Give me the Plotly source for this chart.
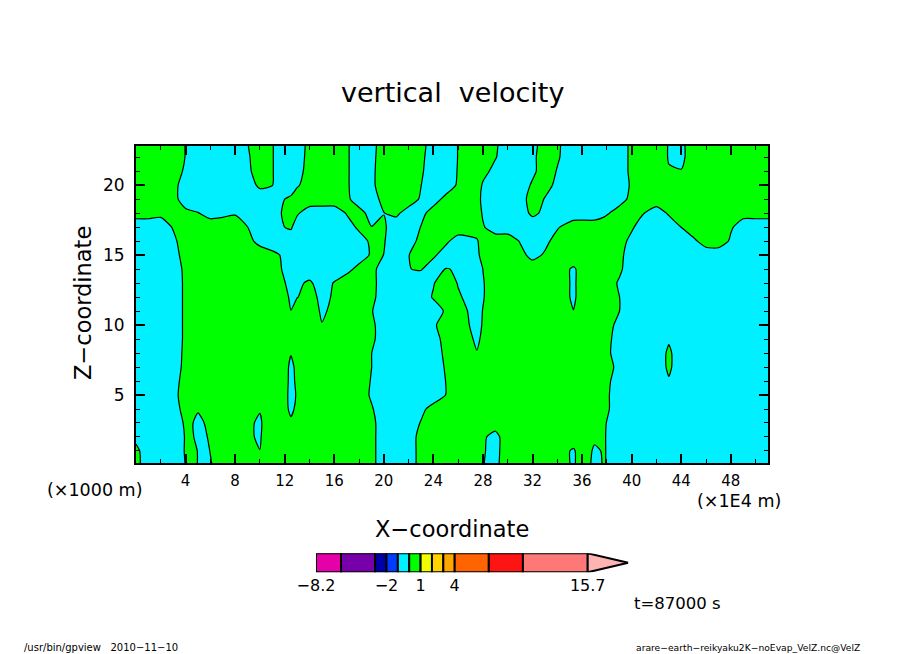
import plotly.graph_objects as go

# grid of the contour field (x in 1E4 m, z in 1000 m)
x_coord = [0, 1, 2, 3, 4, 5, 6, 7, 8, 9, 10, 11, 12.5, 13, 14, 15, 16, 17, 18, 19,
           20, 21, 22, 23, 24, 25, 26, 27.5, 28, 29, 30, 31, 32, 33, 34, 35.3, 36, 37, 37.75, 39,
           40, 41, 42, 43, 44, 45, 46, 47, 48, 49, 50, 51]
z_coord = [0.14, 1, 2, 3, 4, 5, 6, 7, 8, 9, 10, 11, 12, 13, 14, 15, 16, 17, 18, 19, 20, 21, 22, 22.8]

# estimated vertical velocity, one row per height (only the sign pattern can be read)
r00 = [3.5,-6.5,-9,-40,2,-.1,-1,9,9,9, 9,9,9,9,9,9,9,9,9,3.5, -6.5,-9,-6,4,9,9,9,9,.4,-3.5, 8,9,9,9,7,-2,7,-3,.75,-5.5, -9,-9,-9,-9,-9,-9,-9,-9,-9,-9, -9,-9]
r01 = [3,-7,-9,-40,5,-.3,.03,9,9,9, .1,9,9,9,9,9,9,9,9,3.5, -6.5,-9,-6,4,9,9,9,9,.9,-3.5, 6.5,9,9,9,7,-2,8,-2,1,-7, -9,-9,-9,-9,-9,-9,-9,-9,-9,-9, -9,-9]
r02 = [-3,-9,-9,-20,2,-1,.33,9,9,1.1, -.9,8,9,9,9,9,9,9,9,3.5, -6.5,-9,-6,4,9,9,9,9,1.5,-3.5, 6.5,9,9,9,9,9,9,2.5,1.2,-9, -9,-9,-9,-9,-9,-9,-9,-9,-9,-9, -9,-9]
r03 = [-9,-9,-9,-8,2,-1.3,1.3,9,9,1.1, -.9,5,1.2,9,9,9,9,9,9,3.5, -6.5,-9,-9,1,9,9,9,9,9,5, 9,9,9,9,9,9,9,9,1.6,-8.4, -9,-9,-9,-9,-9,-9,-9,-9,-9,-9, -9,-9]
r04 = [-9,-9,-9,-5.5,4.5,.5,9,9,9,9, .4,9,-1.5,1.5,9,9,9,9,9,1.5, -8.5,-9,-9,-4,6,9,9,9,9,9, 9,9,9,9,9,9,9,9,3.6,-6.4, -9,-9,-9,-9,-9,-9,-9,-9,-9,-9, -9,-9]
r05 = [-9,-9,-9,-4,6,9,9,9,9,9, 9,9,-1.8,.5,9,9,9,9,8,-2, -9,-9,-9,-9,-9,.2,9,9,9,9, 9,9,9,9,9,9,9,9,3.6,-6.4, -9,-9,-9,-9,-9,-9,-9,-9,-9,-9, -9,-9]
r06 = [-9,-9,-9,-5,5,9,9,9,9,9, 9,9,-1.5,1,9,9,9,9,9,-1, -9,-9,-9,-9,-9,.2,9,9,9,9, 9,9,9,9,9,9,9,9,4.4,-5.6, -9,-9,-9,-1.5,-9,-9,-9,-9,-9,-9, -9,-9]
r07 = [-9,-9,-9,-6.5,3.5,9,9,9,9,9, 9,9,-1.3,1.3,9,9,9,9,9,.2, -9,-9,-9,-9,-8.5,1.5,9,9,9,9, 9,9,9,9,9,9,9,9,6.4,-3.6, -9,-9,-10,3,-10,-9,-9,-9,-9,-9, -9,-9]
r08 = [-9,-9,-9,-7,3,9,9,9,9,9, 9,9,.3,9,9,9,9,9,9,.2, -9,-9,-9,-9,-7,3,9,.5,9,9, 9,9,9,9,9,9,9,9,4.4,-5.6, -9,-9,-10,3,-10,-9,-9,-9,-9,-9, -9,-9]
r09 = [-9,-9,-9,-7.5,2.5,9,9,9,9,9, 9,9,9,9,9,9,9,9,9,3, -7,-9,-9,-9,-5.5,4.5,8,-2,2,9, 9,9,9,9,9,9,9,9,5,-5, -9,-9,-9,-2,-9,-9,-9,-9,-9,-9, -9,-9]
r10 = [-9,-9,-9,-7.5,2.5,9,9,9,9,9, 9,9,9,9,9,.5,9,9,9,3, -7,-9,-9,-9,-2.5,7.5,6,-4,1,9, 9,9,9,9,9,9,9,9,6.4,-3.6, -9,-9,-9,-9,-9,-9,-9,-9,-9,-9, -9,-9]
r11 = [-9,-9,-9,-7.5,2.5,9,9,9,9,9, 9,9,.1,9,8,-2,3,9,9,1, -9,-9,-9,-9,-8,2,5,-5,.5,9, 9,9,9,9,9,.2,9,9,9,.2, -9,-9,-9,-9,-9,-9,-9,-9,-9,-9, -9,-9]
r12 = [-9,-9,-9,-7.5,2.5,9,9,9,9,9, 9,9,-1.3,-.6,6,-4,1.7,9,9,3.5, -6.5,-9,-9,-8.5,1.5,9,2,-8,-1,9, 9,9,9,9,7,-2,5,9,9,.2, -9,-9,-9,-9,-9,-9,-9,-9,-9,-9, -9,-9]
r13 = [-9,-9,-9,-7.5,2.5,9,9,9,9,9, 9,7,-3,-3,2.5,-7.5,1,9,9,4, -6,-9,-9,-9,-1,9,-1,-9,-1,9, 9,9,9,9,7,-2,5,9,8.4,-1.6, -9,-9,-9,-9,-9,-9,-9,-9,-9,-9, -9,-9]
r14 = [-9,-9,-9,-7,3,9,9,9,9,9, 9,5,-5,-9,-9,-9,-9,-5,5,4, -6,-9,-.3,1,-8,.5,-1,-9,.2,9, 9,9,9,9,7,-2,5,9,9,2.5, -7.5,-9,-9,-9,-9,-9,-9,-9,-9,-9, -9,-9]
r15 = [-9,-9,-9,-5,5,9,9,9,9,9, 9,4,-6,-9,-9,-9,-9,-9,-8,2, -.1,-9,-.5,9,2.5,-7.5,-9,-4,6,9, 9,5,-5,2,9,9,9,9,9,3.5, -6.5,-9,-9,-9,-9,-9,-9,-9,-9,-9, -9,-9]
r16 = [-9,-9,-9,-3,7,9,9,9,9,5, -5,-9,-9,-9,-9,-9,-9,-9,-7,3, 1,-9,-6,4,9,3,-7,-2,8,9, 9,-1,-9,-4,6,9,9,9,9,6, -4,-9,-9,-9,-9,-3,7,8,-2,-9, -9,-9]
r17 = [-6,-6,-7,1,9,9,6,7,9,.2, -9,-4,2,-8,-9,-9,-9,-7,3,.3, 2,-8,-9,.5,9,9,9,9,1.5,-8.5, -9,-9,-9,-9,-1.5,8.5,9,9,9,9, 2,-8,-9,-9,.2,9,9,9,1.5,-6, -6,-6]
r18 = [4,4,3,3,3,.5,-4,-3,-1.5,-9, -9,-4.7,5,2,-8,-9,-9,1,5,-5, -.3,3,-7,-4,6,9,9,8,-2,-9, -9,-7,3,-3,-9,-9,-9,-9,-3.6,6.4, 9,.2,-8,2,9,9,9,9,4,4, 4,4]
r19 = [9,9,9,4,-6,-9,-9,-9,-9,-9, -9,-6,3,9,9,9,9,3,-7,-6, 4,9,8,-2,-6,4,9,6,-4,-9, -9,-9,9,-1,-9,-9,-9,-9,-9,-6, 4,9,9,9,9,9,9,9,9,9, 9,9]
r20 = [9,9,9,4,-6,-9,-9,-9,-9,-7, 3,.2,-9,-2,8,9,9,2,-8,-3, 7,9,9,.2,-9,-8,2,8,-2,-9, -9,-8,2,6,-4,-9,-9,-9,-9,-8, 2,9,9,9,9,9,9,9,9,9, 9,9]
r21 = [9,9,9,7.5,-2.5,-9,-9,-9,-9,-3, 7,.5,-9,-5,5,9,9,2,-8,-3, 7,9,9,2,-8,-9,1,9,5,-5, -9,-9,-3,7,-.8,-9,-9,-9,-9,-7, 3,9,5,1,.5,5,9,9,9,9, 9,9]
r22 = [9,9,9,9,-.5,-9,-9,-9,-9,-2, 8,.5,-9,-6,4,9,9,2,-8,-3.5, 6.5,9,9,3,-7,-9,.5,9,9,1, -9,-9,-3,7,1.5,-8,-9,-9,-9,-7, 3,9,9,-1,-3,7,9,9,9,9, 9,9]
r23 = [9,9,9,9,-.5,-9,-9,-9,-9,-.6, 9,.5,-9,-6.5,3.5,9,9,2,-8,-4, 6,9,9,4,-6,-9,.5,9,9,2, -8,-9,-4,6,2,-8,-9,-9,-9,-7, 3,9,9,-1,-3,7,9,9,9,9, 9,9]
z_values = [r00, r01, r02, r03, r04, r05, r06, r07, r08, r09, r10, r11,
            r12, r13, r14, r15, r16, r17, r18, r19, r20, r21, r22, r23]

# colour bar levels and colours
cbar_levels = [-8.2, -6, -3, -2, -1, 0, 1, 2, 3, 4, 7, 10, 15.7]
cbar_colors = ["#e600aa", "#7800aa", "#0000aa", "#003cff", "#00f0ff", "#00ff00",
               "#f0ff00", "#ffd200", "#ffa500", "#ff6400", "#ff1414", "#ff7878"]
cbar_tip = 19.27
cbar_tip_color = "#ffb4b4"
cbar_ticks = [-8.2, -2, 1, 4, 15.7]
cbar_ticktext = ["\u22128.2", "\u22122", "1", "4", "15.7"]

# the page body keeps its 8px margin, so the figure sits at (8, 8)
W, H = 896, 646
FONT = "DejaVu Sans"


def px_x(p):
    return (p - 8) / W


def px_y(p):
    return 1 - (p - 8) / H


fig = go.Figure()

fig.add_trace(go.Contour(
    x=x_coord, y=z_coord, z=z_values,
    contours=dict(start=0, end=0, size=1, coloring="fill"),
    colorscale=[[0, "#00f0ff"], [0.5, "#00f0ff"], [0.5, "#00ff00"], [1, "#00ff00"]],
    zmin=-1, zmax=1,
    line=dict(color="black", width=1.2, smoothing=0.6),
    showscale=False, hoverinfo="skip",
))

# colour bar drawn on its own axes
fig.add_trace(go.Bar(
    y=[0.5] * len(cbar_colors),
    x=[b - a for a, b in zip(cbar_levels[:-1], cbar_levels[1:])],
    base=cbar_levels[:-1],
    width=1, orientation="h",
    marker=dict(color=cbar_colors, line=dict(color="black", width=2)),
    xaxis="x2", yaxis="y2", showlegend=False, hoverinfo="skip",
))
fig.add_trace(go.Scatter(
    x=[cbar_levels[-1], cbar_tip, cbar_levels[-1], cbar_levels[-1]],
    y=[0, 0.5, 1, 0],
    mode="lines", fill="toself", fillcolor=cbar_tip_color,
    line=dict(color="black", width=2),
    xaxis="x2", yaxis="y2", showlegend=False, hoverinfo="skip",
))

fig.update_layout(
    width=W, height=H, autosize=False,
    margin=dict(l=0, r=0, t=0, b=0, autoexpand=False),
    paper_bgcolor="white", plot_bgcolor="white",
    font=dict(family=FONT, color="black"),
    barmode="overlay",
    xaxis=dict(
        domain=[px_x(136), px_x(768)], range=[0, 51], anchor="y",
        tickmode="array", tickvals=list(range(4, 49, 4)),
        ticks="inside", ticklen=9, tickwidth=2, tickcolor="black",
        minor=dict(tickmode="array", tickvals=list(range(2, 51, 4)),
                   ticks="inside", ticklen=4, tickwidth=1, tickcolor="black"),
        showline=True, linecolor="black", linewidth=2, mirror="allticks",
        showgrid=False, zeroline=False,
        tickfont=dict(size=15), ticklabelstandoff=3,
    ),
    yaxis=dict(
        domain=[px_y(463), px_y(146)], range=[0.14, 22.8], anchor="x",
        tickmode="array", tickvals=[5, 10, 15, 20],
        ticks="inside", ticklen=9, tickwidth=2, tickcolor="black",
        minor=dict(tickmode="array", tickvals=[v for v in range(1, 23) if v % 5],
                   ticks="inside", ticklen=4, tickwidth=1, tickcolor="black"),
        showline=True, linecolor="black", linewidth=2, mirror="allticks",
        showgrid=False, zeroline=False,
        tickfont=dict(size=17), ticklabelstandoff=6,
    ),
    xaxis2=dict(
        domain=[px_x(316), px_x(628.3)], range=[cbar_levels[0], cbar_tip], anchor="y2",
        tickmode="array", tickvals=cbar_ticks, ticktext=cbar_ticktext,
        ticks="", showgrid=False, zeroline=False, showline=False,
        tickfont=dict(size=16), ticklabelstandoff=2,
    ),
    yaxis2=dict(
        domain=[px_y(572.3), px_y(553.3)], range=[0, 1], anchor="x2",
        visible=False,
    ),
)


def label(text, x, y, size, anchor="center", angle=0):
    fig.add_annotation(text=text, xref="paper", yref="paper", x=px_x(x), y=px_y(y),
                       xanchor=anchor, yanchor="middle", showarrow=False, textangle=angle,
                       font=dict(size=size, family=FONT, color="black"))


label("vertical\u00a0\u00a0velocity", 452, 93, 27)
label("X\u2212coordinate", 452, 529, 22.5)
label("Z\u2212coordinate", 83, 303, 22.5, angle=-90)
label("(\u00d71000 m)", 45, 490, 17.5, anchor="left")
label("(\u00d71E4 m)", 695, 501, 17.5, anchor="left")
label("t=87000 s", 632, 603, 16.5, anchor="left")
label("/usr/bin/gpview\u00a0\u00a0\u00a02010\u221211\u221210", 22, 647.5, 10, anchor="left")
label("arare\u2212earth\u2212reikyaku2K\u2212noEvap_VelZ.nc@VelZ", 634, 647.5, 9.2, anchor="left")

fig.write_html("out.html")
